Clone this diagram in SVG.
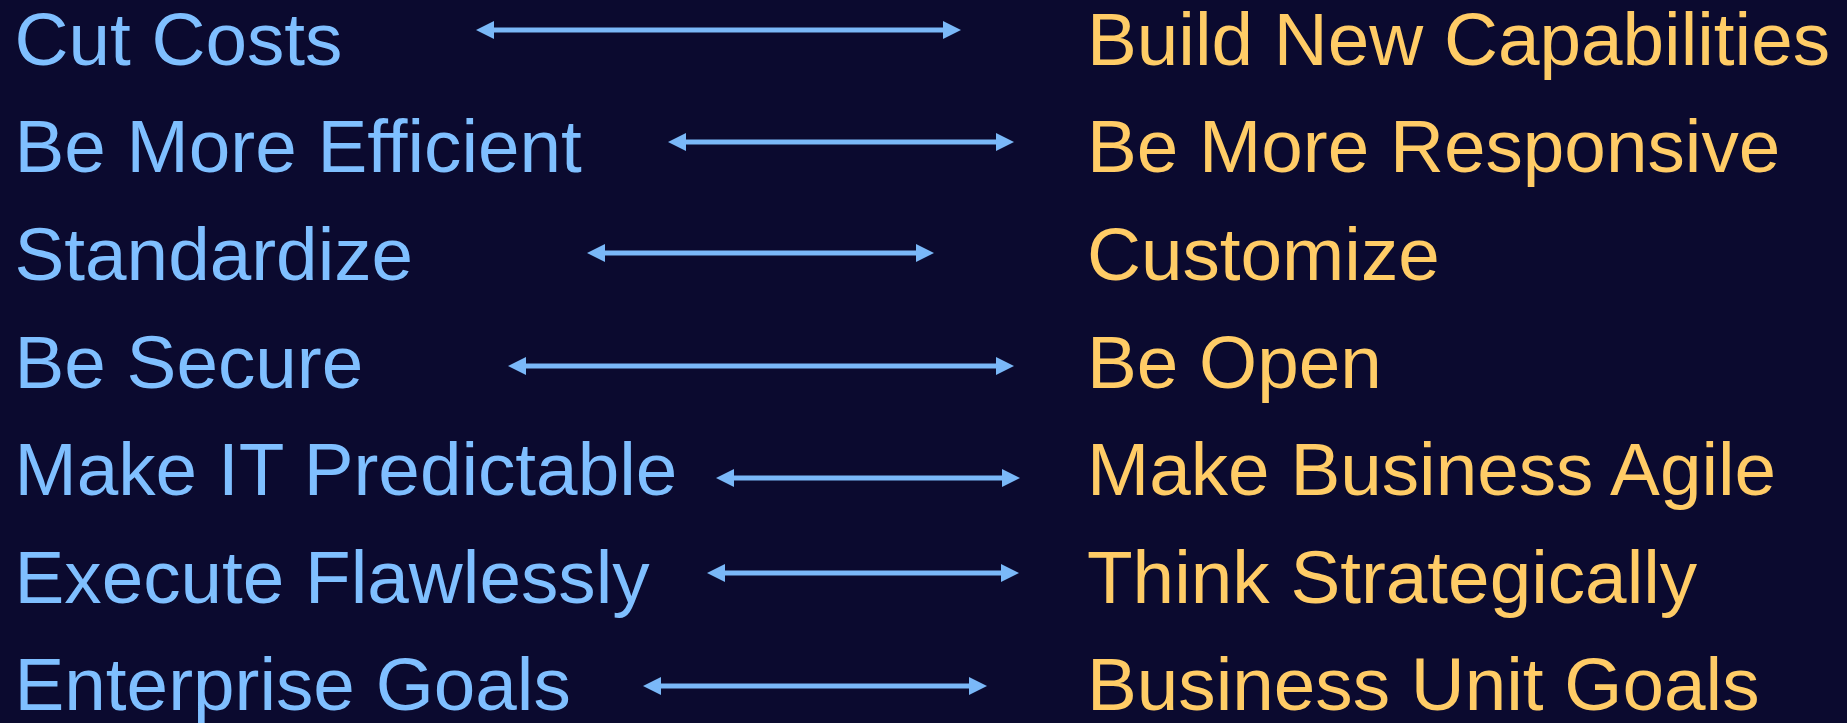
<svg xmlns="http://www.w3.org/2000/svg" width="1847" height="723" viewBox="0 0 1847 723">
  <defs>
    <style>
      .lbl { font-family: "Liberation Sans", Arial, sans-serif; font-size: 74.7px; }
      .left { fill: #7fbfff; }
      .right { fill: #ffcc66; }
      .conn { stroke: #7ab8f8; stroke-width: 5; fill: none; marker-start: url(#head); marker-end: url(#head); }
    </style>
    <marker id="head" viewBox="0 0 18 18" refX="8" refY="9" markerWidth="18" markerHeight="18" markerUnits="userSpaceOnUse" orient="auto-start-reverse">
      <path d="M0,0 L18,9 L0,18 Z" fill="#7ab8f8"/>
    </marker>
  </defs>

  <rect width="1847" height="723" fill="#0b0a2f"/>

  <!-- left-hand goals -->
  <g id="n-cut-costs"><text class="lbl left" x="14.5" y="65">Cut Costs</text></g>
  <g id="n-efficient"><text class="lbl left" x="14.5" y="172">Be More Efficient</text></g>
  <g id="n-standardize"><text class="lbl left" x="14.5" y="280">Standardize</text></g>
  <g id="n-secure"><text class="lbl left" x="14.5" y="388">Be Secure</text></g>
  <g id="n-predictable"><text class="lbl left" x="14.5" y="495">Make IT Predictable</text></g>
  <g id="n-flawless"><text class="lbl left" x="14.5" y="603">Execute Flawlessly</text></g>
  <g id="n-enterprise"><text class="lbl left" x="14.5" y="710">Enterprise Goals</text></g>

  <!-- right-hand goals -->
  <g id="n-capabilities"><text class="lbl right" x="1087" y="65">Build New Capabilities</text></g>
  <g id="n-responsive"><text class="lbl right" x="1087" y="172">Be More Responsive</text></g>
  <g id="n-customize"><text class="lbl right" x="1087" y="280">Customize</text></g>
  <g id="n-open"><text class="lbl right" x="1087" y="388">Be Open</text></g>
  <g id="n-agile"><text class="lbl right" x="1087" y="495">Make Business Agile</text></g>
  <g id="n-strategic"><text class="lbl right" x="1087" y="603">Think Strategically</text></g>
  <g id="n-business-unit"><text class="lbl right" x="1087" y="710">Business Unit Goals</text></g>

  <!-- double-headed connectors (line ends sit 10px inside each tip) -->
  <g id="connectors">
    <line class="conn" x1="486" y1="30" x2="951" y2="30"/>
    <line class="conn" x1="678" y1="142" x2="1004" y2="142"/>
    <line class="conn" x1="597" y1="253" x2="924" y2="253"/>
    <line class="conn" x1="518" y1="366" x2="1004" y2="366"/>
    <line class="conn" x1="726" y1="478" x2="1010" y2="478"/>
    <line class="conn" x1="717" y1="573" x2="1009" y2="573"/>
    <line class="conn" x1="653" y1="686" x2="977" y2="686"/>
  </g>
</svg>
